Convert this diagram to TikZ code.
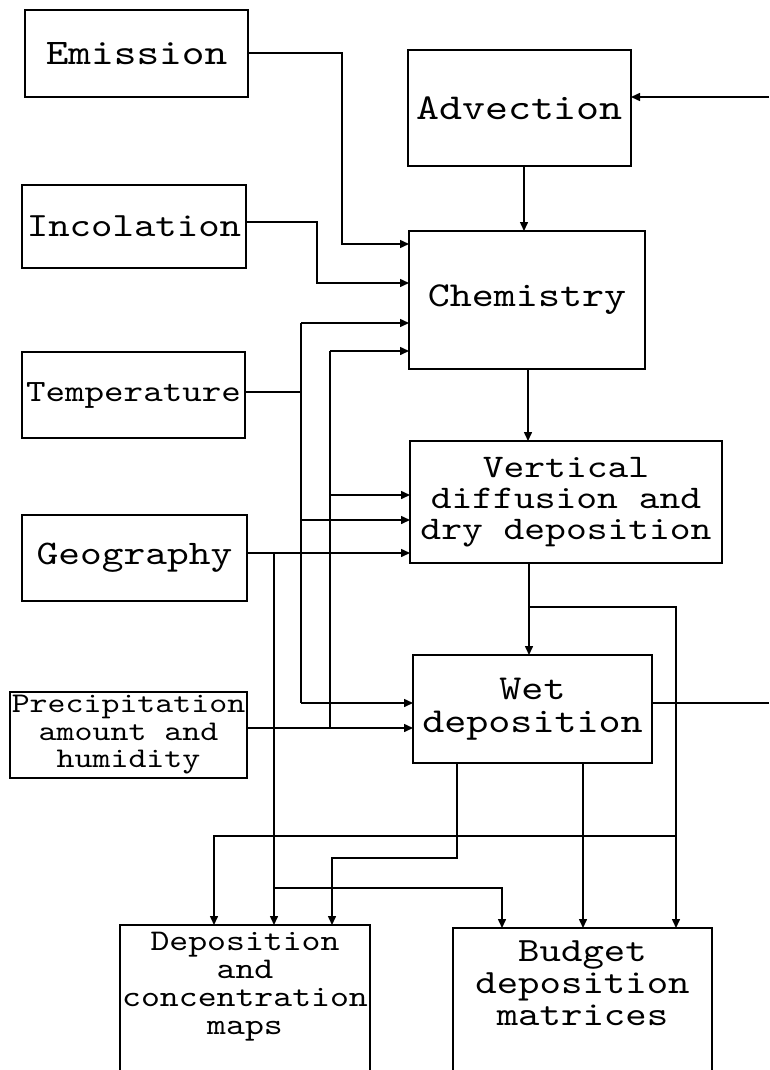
\documentclass[tikz,border=0pt]{standalone}
\usepackage{fontspec}
\newfontfamily\mono{lmmono10-regular.otf}[FakeStretch=1.2]
\usetikzlibrary{arrows.meta}
\begin{document}
\begin{tikzpicture}[x=1pt,y=-1pt,
  line width=1.5pt,
  box/.style={draw, line width=1.5pt, inner sep=0pt, outer sep=0pt, align=center, anchor=north west},
  arr/.style={-{Triangle[length=9pt,width=8pt]}}]
\useasboundingbox (0,0) rectangle (769,1070);
\fill[white] (0,0) rectangle (769,1070);

% boxes
\node[box, minimum width=223pt, minimum height=87pt, font=\mono\fontsize{36}{32}\selectfont] (emis) at (25,10) {Emission};
\node[box, minimum width=223pt, minimum height=116pt, font=\mono\fontsize{36.5}{34}\selectfont] (adv) at (408,50) {Advection};
\node[box, minimum width=224pt, minimum height=83pt, font=\mono\fontsize{34}{32}\selectfont] (inco) at (22,185) {Incolation};
\node[box, minimum width=236pt, minimum height=138pt, font=\mono\fontsize{35}{32}\selectfont] (chem) at (409,231) {Chemistry};
\node[box, minimum width=223pt, minimum height=86pt, font=\mono\fontsize{31}{30}\selectfont] (temp) at (22,352) {Temperature};
\node[box, minimum width=312pt, minimum height=122pt, font=\mono\fontsize{33}{31}\selectfont] (vert) at (410,441) {Vertical\\diffusion and\\dry deposition};
\node[box, minimum width=225pt, minimum height=86pt, font=\mono\fontsize{34.5}{32}\selectfont] (geo) at (22,515) {Geography};
\node[box, minimum width=239pt, minimum height=108pt, font=\mono\fontsize{35}{33}\selectfont] (wet) at (413,655) {Wet\\deposition};
\node[box, minimum width=237pt, minimum height=86pt, font=\mono\fontsize{28.5}{27.5}\selectfont] (prec) at (10,692) {Precipitation\\amount and\\humidity};
\node[box, minimum width=250pt, minimum height=175pt, font=\mono\fontsize{30}{28}\selectfont] (dep) at (120,925)
  {\raisebox{26pt}[\height][\depth]{\begin{tabular}{@{}c@{}}Deposition\\and\\concentration\\maps\end{tabular}}};
\node[box, minimum width=259pt, minimum height=172pt, font=\mono\fontsize{34}{32}\selectfont] (bud) at (453,928)
  {\raisebox{27pt}[\height][\depth]{\begin{tabular}{@{}c@{}}Budget\\deposition\\matrices\end{tabular}}};

% main chain
\coordinate (c1) at (524,0);
\coordinate (c2) at (528,0);
\draw[arr] (adv.south -| c1) -- (chem.north -| c1);
\draw[arr] (chem.south -| c2) -- (vert.north -| c2);

% emission and incolation
\coordinate (eb) at (342,244);
\draw[arr] (emis.east |- 0,53) -| (eb) -- (chem.west |- eb);
\coordinate (ib1) at (317,222);
\coordinate (ib2) at (317,283);
\draw[arr] (inco.east |- ib1) -- (ib1) -- (ib2) -- (chem.west |- ib2);

% temperature bus
\coordinate (t1) at (301,323);
\coordinate (t2) at (301,520);
\coordinate (t3) at (301,703);
\draw (t1) -- (t3);
\draw (temp.east |- 0,392) -- (t1 |- 0,392);
\draw[arr] (t1) -- (chem.west |- t1);
\draw[arr] (t2) -- (vert.west |- t2);
\draw[arr] (t3) -- (wet.west |- t3);

% precipitation bus
\coordinate (p1) at (330,351);
\coordinate (p2) at (330,495);
\coordinate (p3) at (330,728);
\draw (p1) -- (p3);
\draw[arr] (p1) -- (chem.west |- p1);
\draw[arr] (p2) -- (vert.west |- p2);
\draw[arr] (prec.east |- p3) -- (wet.west |- p3);

% geography
\coordinate (g1) at (274,553);
\coordinate (g2) at (274,888);
\coordinate (g3) at (502,888);
\draw[arr] (geo.east |- g1) -- (vert.west |- g1);
\draw[arr] (g1) -- (g1 |- dep.north);
\draw[arr] (g2) -- (g3) -- (g3 |- bud.north);

% vertical diffusion outputs
\coordinate (v1) at (529,607);
\coordinate (v2) at (676,607);
\coordinate (v3) at (676,836);
\coordinate (v4) at (214,836);
\draw[arr] (vert.south -| v1) -- (wet.north -| v1);
\draw[arr] (v1) -- (v2) -- (v2 |- bud.north);
\draw[arr] (v3) -- (v4) -- (v4 |- dep.north);

% wet deposition outputs
\coordinate (w1) at (457,858);
\coordinate (w2) at (332,858);
\draw[arr] (wet.south -| w1) -- (w1) -- (w2) -- (w2 |- dep.north);
\coordinate (w3) at (583,0);
\draw[arr] (wet.south -| w3) -- (w3 |- bud.north);
\coordinate (wr) at (769,703);
\draw (wet.east |- wr) -- (wr);
\coordinate (ar) at (769,97);
\draw[arr] (ar) -- (adv.east |- ar);
\end{tikzpicture}
\end{document}
